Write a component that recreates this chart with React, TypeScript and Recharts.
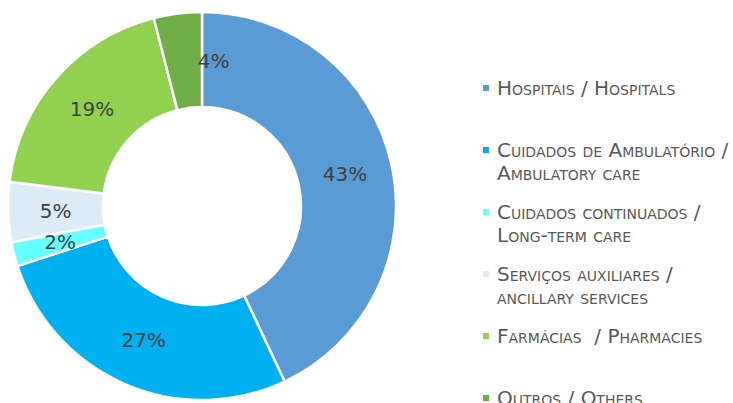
import { PieChart, Pie, Cell, Legend } from 'recharts'

const categories = [
  'Hospitais / Hospitals',
  'Cuidados de Ambulatório /\nAmbulatory care',
  'Cuidados continuados /\nLong-term care',
  'Serviços auxiliares /\nancillary services',
  'Farmácias  / Pharmacies',
  'Outros / Others',
]
const shares = [43, 27, 2, 5, 19, 4]
const COLORS = ['#5B9BD5', '#00B0F0', '#66FFFF', '#DDEBF7', '#92D050', '#70AD47']

const data = categories.map((name, i) => ({ name, value: shares[i], color: COLORS[i] }))

const RADIAN = Math.PI / 180
const FONT = '"DejaVu Sans", Verdana, sans-serif'

function SliceLabel({ cx, cy, midAngle, innerRadius, outerRadius, value, index }: any) {
  const r = (innerRadius + outerRadius) / 2
  // Excel nudged the small "others" label into the neighbouring slice
  const shift = index === 5 ? 30 : 0
  const x = cx + r * Math.cos(-midAngle * RADIAN) + shift
  const y = cy + r * Math.sin(-midAngle * RADIAN)
  return (
    <text x={x} y={y} textAnchor="middle" dominantBaseline="central"
      fill="#404040" fontSize={20} fontFamily={FONT}>
      {value}%
    </text>
  )
}

// keep the legend in the data order (recharts sorts its payload)
function LegendList() {
  return (
    <div style={{ fontFamily: FONT, fontSize: 20, color: '#595959', fontVariant: 'small-caps' }}>
      {data.map((d) => (
        <div key={d.name} style={{ height: 62, position: 'relative', paddingLeft: 19 }}>
          <span style={{
            position: 'absolute', left: 5, top: 8, width: 6, height: 6, background: d.color,
          }} />
          {d.name.split('\n').map((line, j) => (
            <div key={j} style={{ height: 23, lineHeight: '23px', whiteSpace: 'pre' }}>{line}</div>
          ))}
        </div>
      ))}
    </div>
  )
}

export default function App() {
  return (
    <div style={{ position: 'absolute', left: 0, top: 0, width: 733, height: 403, background: '#fff', overflow: 'hidden' }}>
      <PieChart width={733} height={403} margin={{ top: 0, right: 0, bottom: 0, left: 0 }}>
        <Pie
          data={data} dataKey="value" nameKey="name"
          cx={202} cy={206} innerRadius={99} outerRadius={194}
          startAngle={90} endAngle={-270}
          stroke="#ffffff" strokeWidth={2.5}
          label={SliceLabel} labelLine={false}
          isAnimationActive={false}
        >
          {data.map((d, i) => (
            <Cell key={i} fill={d.color} />
          ))}
        </Pie>
        <Legend
          layout="vertical" align="right" verticalAlign="top"
          content={<LegendList />}
          wrapperStyle={{ position: 'absolute', left: 478, top: 77, width: 255 }}
        />
      </PieChart>
    </div>
  )
}
